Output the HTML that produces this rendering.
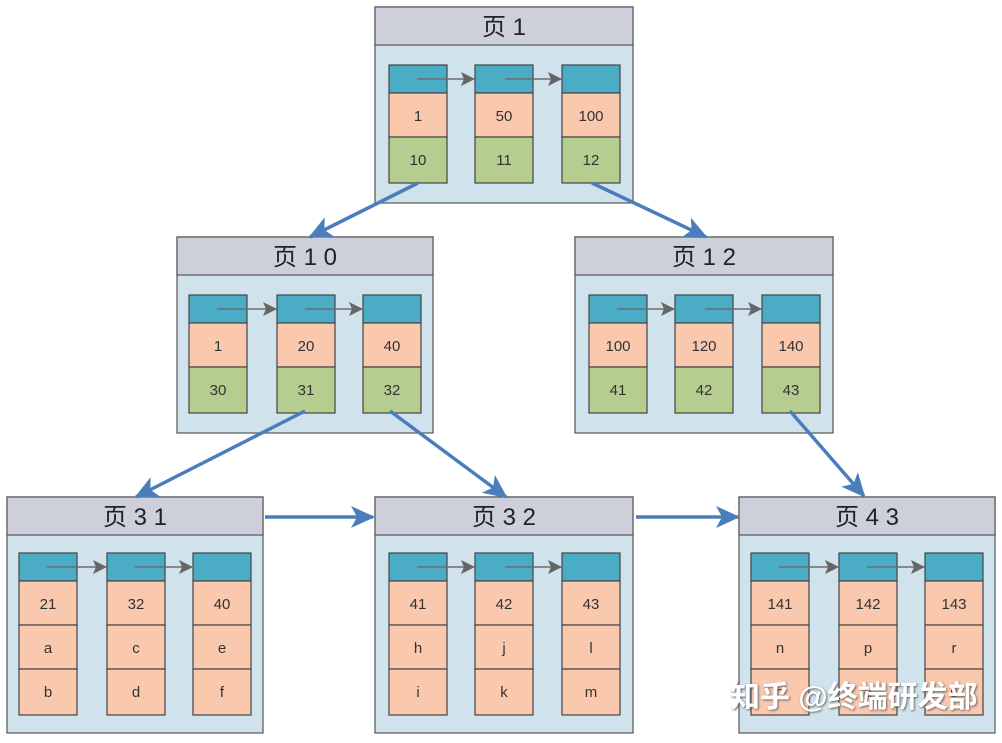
<!DOCTYPE html>
<html><head><meta charset="utf-8"><style>
body{margin:0;background:#fff}
text{font-family:"Liberation Sans","Noto Sans CJK SC",sans-serif;fill:#333}
.h{font-size:24px;fill:#222}
.c{font-size:15px}
</style></head><body>
<svg width="1002" height="738" viewBox="0 0 1002 738" xmlns="http://www.w3.org/2000/svg">
<defs>
<marker id="ga" markerWidth="16" markerHeight="16" refX="13" refY="7" orient="auto" markerUnits="userSpaceOnUse"><path d="M0,0 L14,7 L0,14 L3,7z" fill="#666"/></marker>
<marker id="ba" markerWidth="26" markerHeight="22" refX="22" refY="11" orient="auto" markerUnits="userSpaceOnUse"><path d="M0,0 L24,11 L0,22 L6,11z" fill="#4a7ebb"/></marker>
<filter id="sh" x="-5%" y="-20%" width="110%" height="140%"><feDropShadow dx="1" dy="1" stdDeviation="1" flood-color="#555" flood-opacity="0.9"/></filter>
<g id="b3" stroke="#444" stroke-width="1.2"><rect width="58" height="28" fill="#4bacc6"/><rect y="28" width="58" height="44" fill="#fac8ad"/><rect y="72" width="58" height="46" fill="#b5cd8f"/></g>
<g id="b4" stroke="#444" stroke-width="1.2"><rect width="58" height="28" fill="#4bacc6"/><rect y="28" width="58" height="44" fill="#fac8ad"/><rect y="72" width="58" height="44" fill="#fac8ad"/><rect y="116" width="58" height="46" fill="#fac8ad"/></g>
</defs>

<g stroke="#555" stroke-width="1.2">
<rect x="375" y="7" width="258" height="196" fill="#d0e3ec"/><rect x="375" y="7" width="258" height="38" fill="#cdd0da"/>
<rect x="177" y="237" width="256" height="196" fill="#d0e3ec"/><rect x="177" y="237" width="256" height="38" fill="#cdd0da"/>
<rect x="575" y="237" width="258" height="196" fill="#d0e3ec"/><rect x="575" y="237" width="258" height="38" fill="#cdd0da"/>
<rect x="7" y="497" width="256" height="236" fill="#d0e3ec"/><rect x="7" y="497" width="256" height="38" fill="#cdd0da"/>
<rect x="375" y="497" width="258" height="236" fill="#d0e3ec"/><rect x="375" y="497" width="258" height="38" fill="#cdd0da"/>
<rect x="739" y="497" width="256" height="236" fill="#d0e3ec"/><rect x="739" y="497" width="256" height="38" fill="#cdd0da"/>
</g>
<text class="h" x="504" y="35" text-anchor="middle">页 1</text>
<text class="h" x="305" y="265" text-anchor="middle">页 1 0</text>
<text class="h" x="704" y="265" text-anchor="middle">页 1 2</text>
<text class="h" x="135" y="525" text-anchor="middle">页 3 1</text>
<text class="h" x="504" y="525" text-anchor="middle">页 3 2</text>
<text class="h" x="867" y="525" text-anchor="middle">页 4 3</text>

<use href="#b3" x="389" y="65"/><use href="#b3" x="475" y="65"/><use href="#b3" x="562" y="65"/>
<g class="c" text-anchor="middle">
<text x="418" y="121">1</text><text x="504" y="121">50</text><text x="591" y="121">100</text>
<text x="418" y="165">10</text><text x="504" y="165">11</text><text x="591" y="165">12</text>
</g>
<use href="#b3" x="189" y="295"/><use href="#b3" x="277" y="295"/><use href="#b3" x="363" y="295"/>
<g class="c" text-anchor="middle">
<text x="218" y="351">1</text><text x="306" y="351">20</text><text x="392" y="351">40</text>
<text x="218" y="395">30</text><text x="306" y="395">31</text><text x="392" y="395">32</text>
</g>
<use href="#b3" x="589" y="295"/><use href="#b3" x="675" y="295"/><use href="#b3" x="762" y="295"/>
<g class="c" text-anchor="middle">
<text x="618" y="351">100</text><text x="704" y="351">120</text><text x="791" y="351">140</text>
<text x="618" y="395">41</text><text x="704" y="395">42</text><text x="791" y="395">43</text>
</g>
<use href="#b4" x="19" y="553"/><use href="#b4" x="107" y="553"/><use href="#b4" x="193" y="553"/>
<g class="c" text-anchor="middle">
<text x="48" y="609">21</text><text x="136" y="609">32</text><text x="222" y="609">40</text>
<text x="48" y="653">a</text><text x="136" y="653">c</text><text x="222" y="653">e</text>
<text x="48" y="697">b</text><text x="136" y="697">d</text><text x="222" y="697">f</text>
</g>
<use href="#b4" x="389" y="553"/><use href="#b4" x="475" y="553"/><use href="#b4" x="562" y="553"/>
<g class="c" text-anchor="middle">
<text x="418" y="609">41</text><text x="504" y="609">42</text><text x="591" y="609">43</text>
<text x="418" y="653">h</text><text x="504" y="653">j</text><text x="591" y="653">l</text>
<text x="418" y="697">i</text><text x="504" y="697">k</text><text x="591" y="697">m</text>
</g>
<use href="#b4" x="751" y="553"/><use href="#b4" x="839" y="553"/><use href="#b4" x="925" y="553"/>
<g class="c" text-anchor="middle">
<text x="780" y="609">141</text><text x="868" y="609">142</text><text x="954" y="609">143</text>
<text x="780" y="653">n</text><text x="868" y="653">p</text><text x="954" y="653">r</text>
<text x="780" y="697">o</text><text x="868" y="697">q</text><text x="954" y="697">s</text>
</g>

<g stroke="#6d6d6d" stroke-width="1.5" marker-end="url(#ga)">
<line x1="417" y1="79" x2="474" y2="79"/><line x1="505" y1="79" x2="561" y2="79"/>
<line x1="217" y1="309" x2="276" y2="309"/><line x1="305" y1="309" x2="362" y2="309"/>
<line x1="617" y1="309" x2="674" y2="309"/><line x1="705" y1="309" x2="761" y2="309"/>
<line x1="47" y1="567" x2="106" y2="567"/><line x1="135" y1="567" x2="192" y2="567"/>
<line x1="417" y1="567" x2="474" y2="567"/><line x1="505" y1="567" x2="561" y2="567"/>
<line x1="779" y1="567" x2="838" y2="567"/><line x1="867" y1="567" x2="924" y2="567"/>
</g>

<g stroke="#4a7ebb" stroke-width="3.5" marker-end="url(#ba)" fill="none">
<line x1="418" y1="183" x2="310" y2="237"/>
<line x1="592" y1="183" x2="706" y2="237"/>
<line x1="305" y1="411" x2="136" y2="497"/>
<line x1="390" y1="411" x2="506" y2="497"/>
<line x1="790" y1="411" x2="864" y2="496"/>
<line x1="265" y1="517" x2="373" y2="517"/>
<line x1="636" y1="517" x2="738" y2="517"/>
</g>

<text x="730" y="707" filter="url(#sh)" style="font-size:30px;font-weight:bold;fill:#fff">知乎 @终端研发部</text>
</svg>
</body></html>
